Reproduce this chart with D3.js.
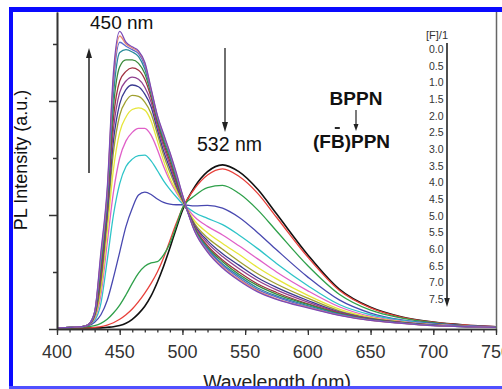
<!DOCTYPE html>
<html><head><meta charset="utf-8">
<script src="https://cdn.jsdelivr.net/npm/d3@7"></script>
<style>html,body{margin:0;padding:0;background:#fff;overflow:hidden}</style>
</head><body>
<svg id="c" width="502" height="389"></svg>
<script>
const wavelengths = [400,420,425,430,435,440,445,450,455,460,465,470,475,480,485,490,495,500,510,520,532,545,560,575,600,625,650,675,700,725,750];
const fLabels = ["0.0","0.5","1.0","1.5","2.0","2.5","3.0","3.5","4.0","4.5","5.0","5.5","6.0","6.5","7.0","7.5"];
const xTickValues = [400,450,500,550,600,650,700,750];
const xMinorTicks = d3.range(400, 751, 10);
const yMajorTicks = [0,2,4];
const yMinorTicks = [1,3,5];

const s00 = [0.02,0.02,0.02,0.02,0.02,0.03,0.04,0.06,0.10,0.17,0.27,0.40,0.58,0.82,1.10,1.42,1.76,2.08,2.50,2.76,2.88,2.76,2.45,2.02,1.30,0.70,0.38,0.21,0.12,0.07,0.04];
const s05 = [0.02,0.02,0.02,0.03,0.04,0.07,0.11,0.17,0.25,0.35,0.48,0.63,0.80,1.00,1.25,1.55,1.85,2.12,2.47,2.70,2.81,2.68,2.38,1.96,1.26,0.68,0.37,0.205,0.12,0.07,0.04];
const s10 = [0.02,0.03,0.04,0.06,0.10,0.17,0.28,0.42,0.60,0.80,0.98,1.10,1.16,1.18,1.30,1.50,1.80,2.12,2.34,2.48,2.52,2.38,2.09,1.72,1.11,0.61,0.33,0.19,0.11,0.06,0.04];
const s15 = [0.02,0.04,0.06,0.12,0.25,0.50,0.90,1.35,1.80,2.12,2.35,2.40,2.36,2.28,2.22,2.19,2.18,2.18,2.16,2.17,2.12,1.96,1.69,1.39,0.91,0.51,0.28,0.16,0.10,0.06,0.04];
const s20 = [0.02,0.04,0.07,0.15,0.45,1.20,2.00,2.55,2.85,2.98,3.04,3.05,2.95,2.78,2.60,2.45,2.32,2.20,2.04,1.94,1.83,1.65,1.41,1.15,0.76,0.43,0.25,0.15,0.085,0.05,0.034];
const s25 = [0.02,0.04,0.07,0.18,0.60,1.50,2.40,3.00,3.30,3.45,3.52,3.52,3.40,3.15,2.85,2.60,2.40,2.23,1.96,1.80,1.65,1.46,1.23,1.00,0.67,0.39,0.22,0.135,0.08,0.05,0.033];
const s30 = [0.02,0.04,0.07,0.20,0.70,1.70,2.80,3.45,3.72,3.85,3.88,3.84,3.65,3.30,2.95,2.65,2.43,2.24,1.89,1.69,1.50,1.31,1.08,0.88,0.59,0.35,0.205,0.126,0.074,0.047,0.032];
const s35 = [0.02,0.04,0.07,0.22,0.80,1.90,3.10,3.75,4.00,4.10,4.08,3.98,3.78,3.42,3.05,2.75,2.48,2.26,1.84,1.60,1.40,1.19,0.97,0.79,0.54,0.32,0.19,0.12,0.07,0.045,0.032];
const s40 = [0.02,0.04,0.07,0.24,0.90,2.00,3.30,3.95,4.20,4.28,4.25,4.12,3.90,3.50,3.12,2.82,2.52,2.27,1.81,1.55,1.32,1.12,0.90,0.73,0.50,0.30,0.18,0.115,0.068,0.044,0.031];
const s45 = [0.02,0.04,0.07,0.25,0.95,2.10,3.50,4.15,4.35,4.42,4.38,4.24,3.98,3.57,3.20,2.88,2.56,2.28,1.79,1.51,1.27,1.06,0.85,0.685,0.47,0.29,0.175,0.112,0.067,0.043,0.031];
const s50 = [0.02,0.04,0.08,0.26,1.00,2.20,3.70,4.35,4.52,4.58,4.54,4.38,4.06,3.63,3.26,2.94,2.60,2.30,1.76,1.46,1.21,1.00,0.79,0.64,0.44,0.28,0.17,0.11,0.065,0.042,0.031];
const s55 = [0.02,0.04,0.08,0.27,1.10,2.25,3.90,4.60,4.72,4.72,4.66,4.48,4.12,3.67,3.30,3.00,2.64,2.31,1.75,1.43,1.18,0.96,0.76,0.61,0.43,0.27,0.165,0.107,0.064,0.042,0.031];
const s60 = [0.02,0.04,0.08,0.28,1.20,2.30,4.10,4.85,4.90,4.86,4.78,4.56,4.16,3.70,3.35,3.04,2.68,2.33,1.73,1.41,1.14,0.93,0.72,0.58,0.41,0.26,0.16,0.104,0.062,0.041,0.03];
const s65 = [0.02,0.04,0.08,0.29,1.25,2.35,4.30,5.03,4.96,4.90,4.83,4.62,4.18,3.72,3.38,3.07,2.71,2.34,1.72,1.39,1.12,0.90,0.69,0.56,0.39,0.25,0.156,0.102,0.061,0.041,0.03];
const s70 = [0.02,0.04,0.08,0.30,1.30,2.40,4.40,5.14,5.00,4.93,4.86,4.66,4.20,3.74,3.40,3.09,2.73,2.35,1.71,1.36,1.09,0.87,0.67,0.53,0.38,0.245,0.152,0.10,0.06,0.04,0.03];
const s75 = [0.02,0.04,0.08,0.30,1.35,2.45,4.50,5.22,5.03,4.95,4.88,4.68,4.22,3.75,3.42,3.10,2.75,2.36,1.70,1.35,1.07,0.85,0.65,0.52,0.37,0.24,0.15,0.10,0.06,0.04,0.03];

const seriesValues = [s00,s05,s10,s15,s20,s25,s30,s35,s40,s45,s50,s55,s60,s65,s70,s75];
const seriesColors = ["#111111","#e8403a","#2ea04a","#4848b0","#2ec4c8","#e060c8","#e6e63a","#a0a030","#3a3a90","#904090","#a03040","#3a8a3a","#2a8a9a","#5a6ad0","#e88a70","#7a4ab8"];

const FONT = "'Liberation Sans', Arial, Helvetica, sans-serif";
const svg = d3.select("#c");
svg.append("rect").attr("width",502).attr("height",389).attr("fill","#fff");

const x = d3.scaleLinear().domain([400,750]).range([57,496]);
const y = d3.scaleLinear().domain([0,5.561]).range([329,12]);

const line = d3.line().x((d,i)=>x(wavelengths[i])).y(d=>y(d)).curve(d3.curveMonotoneX);
svg.append("g").selectAll("path").data(seriesValues).join("path")
  .attr("d", d=>line(d)).attr("fill","none")
  .attr("stroke",(d,i)=>seriesColors[i])
  .attr("stroke-width",(d,i)=>i===0?1.6:1.3);

// axes
const axColor = "#333";
const gx = svg.append("g").attr("transform","translate(0,329)");
gx.call(d3.axisBottom(x).tickValues(xMinorTicks).tickSize(3.5).tickSizeOuter(0).tickFormat(""));
gx.append("g").call(d3.axisBottom(x).tickValues(xTickValues).tickSize(6).tickSizeOuter(0).tickFormat(""));
gx.selectAll(".domain").attr("stroke",axColor).attr("stroke-width",1.6);
gx.selectAll(".tick line").attr("stroke",axColor).attr("stroke-width",1.3);
svg.append("g").selectAll("text").data(xTickValues).join("text")
  .attr("x",d=>x(d)).attr("y",358).attr("text-anchor","middle")
  .attr("font-family",FONT).attr("font-size",18).attr("fill","#333").text(d=>d);

const gy = svg.append("g").attr("transform","translate(57,0)");
gy.call(d3.axisLeft(y).tickValues(yMinorTicks).tickSize(4).tickSizeOuter(0).tickFormat(""));
gy.append("g").call(d3.axisLeft(y).tickValues(yMajorTicks).tickSize(8).tickSizeOuter(0).tickFormat(""));
gy.selectAll(".domain").attr("stroke",axColor).attr("stroke-width",1.6);
gy.selectAll(".tick line").attr("stroke",axColor).attr("stroke-width",1.5);
svg.append("line").attr("x1",496.5).attr("x2",496.5).attr("y1",12).attr("y2",329)
  .attr("stroke","#666").attr("stroke-width",1.5);

// axis titles
svg.append("text").attr("x",277).attr("y",389).attr("text-anchor","middle")
  .attr("font-family",FONT).attr("font-size",19.5).attr("fill","#222").text("Wavelength (nm)");
svg.append("text").attr("transform","translate(27,160) rotate(-90)").attr("text-anchor","middle")
  .attr("font-family",FONT).attr("font-size",18).attr("fill","#111").text("PL Intensity (a.u.)");

// annotations
svg.append("text").attr("x",90).attr("y",29).attr("font-family",FONT).attr("font-size",19).attr("fill","#111").text("450 nm");
svg.append("text").attr("x",197).attr("y",151).attr("font-family",FONT).attr("font-size",19.5).attr("fill","#111").text("532 nm");
function arrow(xp, y1, y2, hw, hl, w){
  const dir = y2 > y1 ? 1 : -1;
  svg.append("line").attr("x1",xp).attr("x2",xp).attr("y1",y1).attr("y2",y2 - dir*hl)
    .attr("stroke","#222").attr("stroke-width",w);
  svg.append("path").attr("d",`M${xp},${y2} L${xp-hw},${y2-dir*hl} L${xp+hw},${y2-dir*hl} Z`).attr("fill","#222");
}
arrow(89,173,48,3,10,1.5);
arrow(225,48,132,3,10,1.3);
arrow(356,110,131,2.5,7,1.2);
arrow(447,43,307,2.8,9,1.6);

svg.append("text").attr("x",356).attr("y",105).attr("text-anchor","middle")
  .attr("font-family",FONT).attr("font-size",19).attr("font-weight","bold").attr("fill","#111").text("BPPN");
const fb = svg.append("text").attr("x",313).attr("y",148)
  .attr("font-family",FONT).attr("font-size",19).attr("font-weight","bold").attr("fill","#111").text("(FB)PPN");
const bStart = 313 + fb.node().getSubStringLength(0,2);
const bW = fb.node().getSubStringLength(2,1);
svg.append("line").attr("x1",bStart+bW/2-3).attr("x2",bStart+bW/2+2).attr("y1",128).attr("y2",128)
  .attr("stroke","#111").attr("stroke-width",1.8);

svg.append("text").attr("x",426).attr("y",39).attr("font-family",FONT).attr("font-size",11).attr("fill","#333").text("[F]/1");
svg.append("g").selectAll("text").data(fLabels).join("text")
  .attr("x",443.5).attr("y",(d,i)=>53+i*16.67).attr("text-anchor","end")
  .attr("font-family",FONT).attr("font-size",10.5).attr("fill","#333").text(d=>d);

// blue frame
svg.append("rect").attr("x",9).attr("y",7).attr("width",493).attr("height",5).attr("fill","#0a0aff");
svg.append("rect").attr("x",9).attr("y",7).attr("width",4).attr("height",382).attr("fill","#0a0aff");
svg.append("rect").attr("x",9).attr("y",386).attr("width",493).attr("height",3).attr("fill","#5050ff");
</script>
</body></html>
